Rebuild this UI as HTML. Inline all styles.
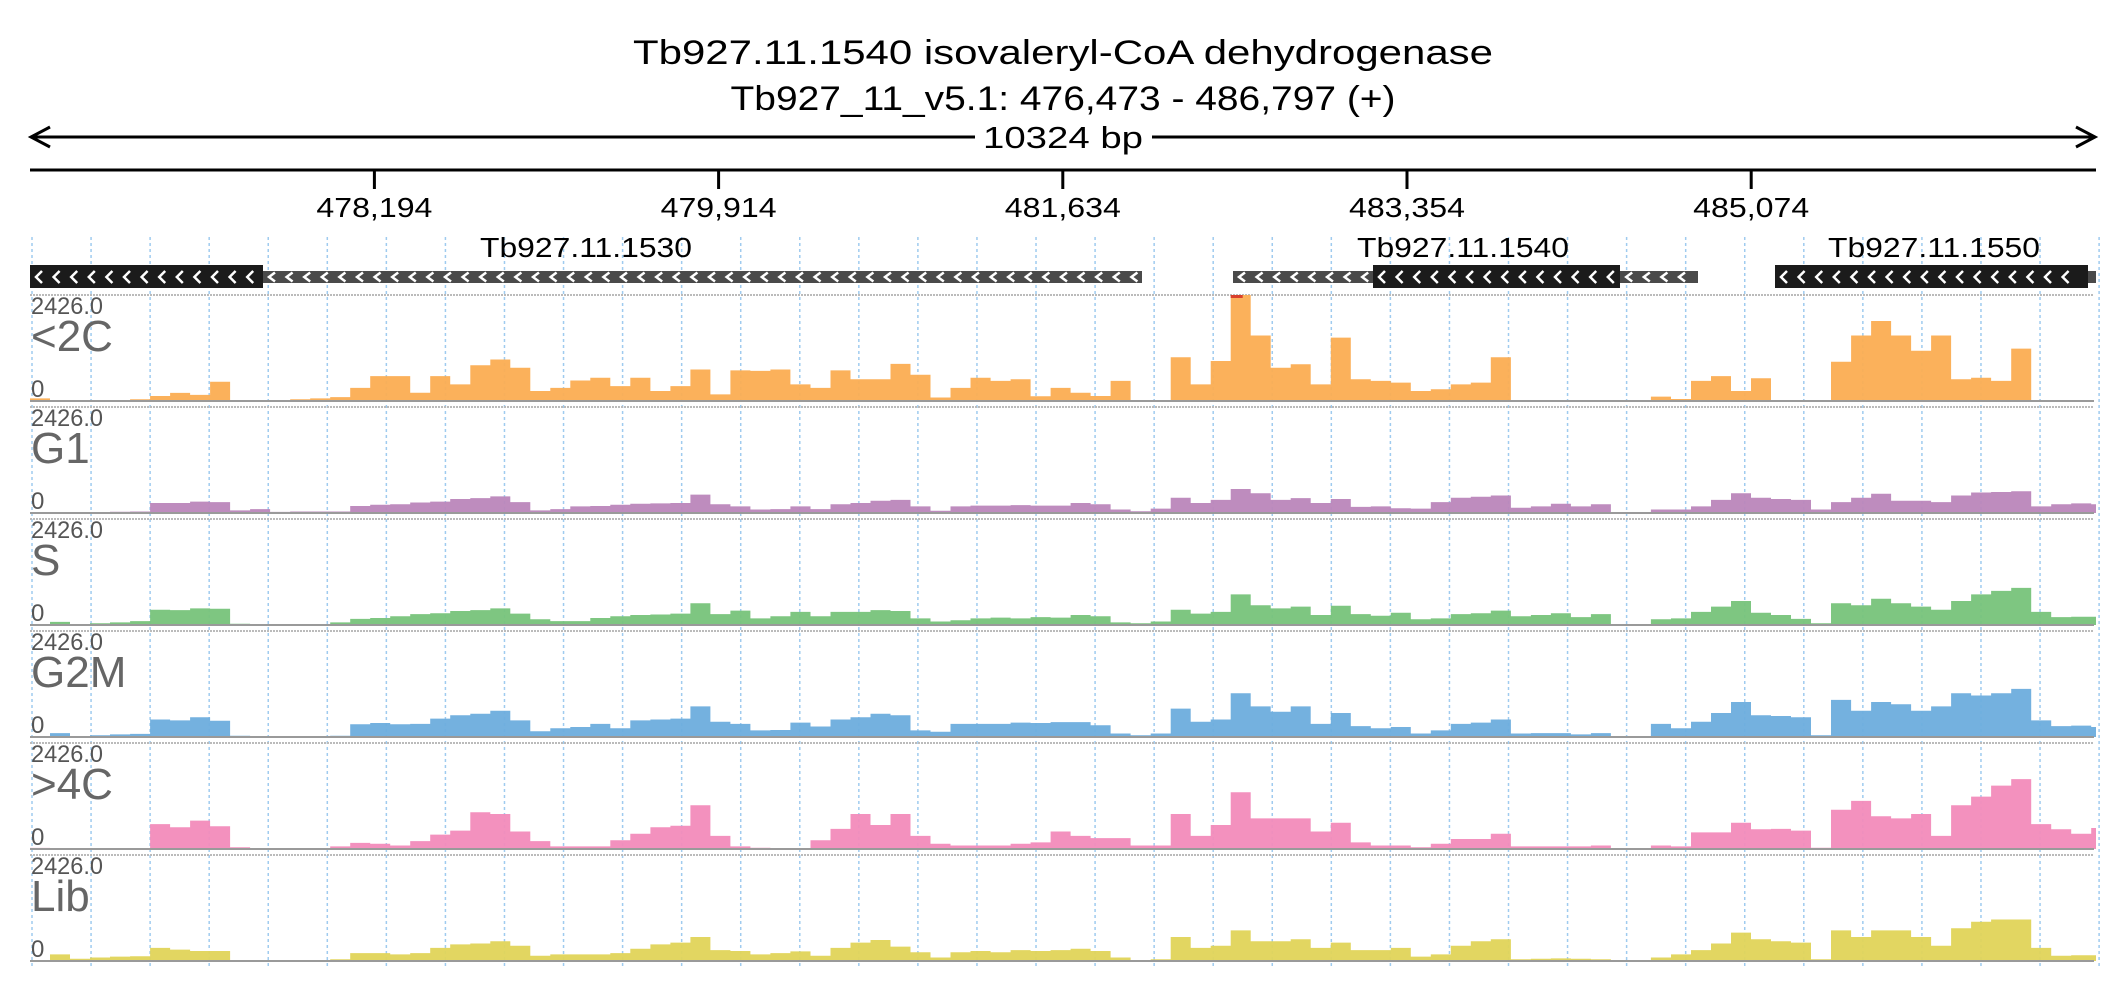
<!DOCTYPE html>
<html><head><meta charset="utf-8">
<style>
html,body{margin:0;padding:0;background:#fff;}
svg{display:block;font-family:"Liberation Sans",sans-serif;}
</style></head>
<body>
<svg id="chart" width="2126" height="1000" viewBox="0 0 2126 1000" xmlns="http://www.w3.org/2000/svg">
  <g>
    <text x="1063" y="64" font-size="34" text-anchor="middle" textLength="860" lengthAdjust="spacingAndGlyphs">Tb927.11.1540  isovaleryl-CoA dehydrogenase</text>
    <text x="1063" y="110" font-size="34" text-anchor="middle" textLength="665" lengthAdjust="spacingAndGlyphs">Tb927_11_v5.1: 476,473 - 486,797 (+)</text>
  </g>
  <g stroke="#000" stroke-width="3" fill="none">
    <line x1="31" y1="137" x2="975" y2="137"/>
    <line x1="1152" y1="137" x2="2095" y2="137"/>
    <polyline points="50,127 31,137 50,147"/>
    <polyline points="2076,127 2095,137 2076,147"/>
  </g>
  <text x="1063" y="148" font-size="31" text-anchor="middle" textLength="160" lengthAdjust="spacingAndGlyphs">10324 bp</text>
  <g id="axis"></g>
  <g id="grid"></g>
  <g id="genes"></g>
  <g id="tracks"></g>
</svg>
<script>
const genomeStart = 476473;
const genomeEnd = 486797;
const binSize = 100;
const tickPositions = [478194, 479914, 481634, 483354, 485074];
const tickLabels = ["478,194", "479,914", "481,634", "483,354", "485,074"];
const trackNames = ["<2C", "G1", "S", "G2M", ">4C", "Lib"];
const trackMax = 2426;
const maxLabel = "2426.0";
const geneNames = ["Tb927.11.1530", "Tb927.11.1540", "Tb927.11.1550"];

const cov2C = [60,20,15,15,15,40,115,185,140,440,0,0,15,40,60,90,300,570,570,190,570,380,820,950,760,230,300,470,530,340,530,230,340,720,150,700,690,720,380,300,700,500,500,850,600,80,300,530,460,500,110,300,
190,115,460,0,0,1000,380,915,2426,1500,760,840,380,1450,500,460,420,230,270,380,420,1000,0,0,0,0,0,0,20,100,45,460,570,230,520,0,0,0,900,1500,1830,1500,1150,1500,500,530,460,1200,0,0,0,0];
const covG1 = [10,10,10,10,30,35,230,230,260,250,60,90,25,35,35,35,160,190,200,240,260,320,340,380,250,60,90,150,160,190,210,220,230,420,200,150,80,90,150,90,200,230,280,300,150,50,150,170,170,180,170,170,
230,200,80,40,100,350,230,300,550,450,300,340,230,320,140,150,110,100,250,350,370,400,120,150,210,150,200,0,0,80,80,150,300,450,350,320,300,80,250,350,440,280,280,250,400,470,480,500,150,200,220,200];
const covS = [0,70,20,40,60,90,350,340,380,370,30,20,20,20,20,60,140,160,200,250,270,320,340,380,260,130,90,90,160,200,230,240,260,500,250,330,150,200,300,200,300,300,340,320,150,80,110,150,170,150,180,170,
230,200,60,40,80,350,260,300,700,450,380,420,230,440,250,210,280,130,150,250,270,330,200,230,270,180,250,20,20,130,150,300,420,550,280,230,140,40,500,450,600,500,420,350,550,700,780,850,300,180,190,190];
const covG2M = [0,90,20,40,60,70,400,380,450,370,30,20,20,20,20,30,290,320,290,300,420,500,530,600,380,130,200,230,300,200,380,400,420,700,350,300,150,160,330,240,400,450,530,500,150,120,300,300,300,330,320,340,
340,270,80,40,80,650,350,400,1000,700,580,700,300,550,250,200,230,80,150,300,330,400,80,90,90,60,90,0,0,300,200,350,550,800,500,480,450,40,850,600,800,750,600,700,1000,950,1000,1100,380,250,260,230];
const cov4C = [25,10,5,5,5,15,570,500,650,520,40,20,15,15,15,60,140,120,80,180,330,420,840,800,400,180,60,60,60,200,350,500,530,1000,300,60,30,20,20,200,460,800,550,800,300,120,80,80,80,120,150,400,
300,250,250,80,80,800,300,550,1300,700,700,700,400,600,150,80,80,40,120,230,230,350,60,60,60,60,80,15,15,80,60,380,380,600,450,460,420,30,900,1100,750,700,800,300,1000,1200,1450,1600,570,450,350,480];
const covLib = [0,150,50,80,100,110,300,260,230,230,20,15,15,15,15,40,180,180,150,180,300,380,400,450,350,120,150,150,150,180,280,380,420,550,250,230,150,180,220,120,300,420,480,330,200,80,200,230,200,250,230,250,
280,230,80,20,40,550,300,350,700,450,450,500,300,420,250,250,300,100,150,350,450,500,40,50,60,50,40,0,0,80,150,250,400,650,500,450,420,40,700,550,700,700,550,350,750,900,950,950,300,120,130,130];

const trackData = [cov2C, covG1, covS, covG2M, cov4C, covLib];
const trackColors = ["#fbad52", "#bb86bb", "#77c37a", "#6daddd", "#f28bba", "#e0d458"];

const NS = "http://www.w3.org/2000/svg";
const X0 = 30, X1 = 2096;
function xScale(pos){ return X0 + (pos - genomeStart) / (genomeEnd - genomeStart) * (X1 - X0); }
function mk(tag, attrs, parent){ const e = document.createElementNS(NS, tag); for (const k in attrs) e.setAttribute(k, attrs[k]); parent.appendChild(e); return e; }

const axis = document.getElementById('axis');
const axLine = mk('line', {x1:X0, y1:170, x2:X1, y2:170, stroke:'#000', 'stroke-width':3}, axis);


tickPositions.forEach((p, i) => {
  const x = xScale(p);
  const t = mk('line', {x1:x, y1:170, x2:x, y2:189, stroke:'#000', 'stroke-width':3}, axis);
  
  
  const lb = mk('text', {x:x, y:217, 'font-size':28, 'text-anchor':'middle', textLength:116, lengthAdjust:'spacingAndGlyphs'}, axis);
  lb.textContent = tickLabels[i];
  
  
});

const grid = document.getElementById('grid');
for (let k = 0; k <= 35; k++) {
  const x = 32 + k * 59.06;
  const g = mk('line', {x1:x, y1:237, x2:x, y2:966, stroke:'#9fcbef', 'stroke-width':1.5, 'stroke-dasharray':'3,3'}, grid);
  
  
}

const genes = document.getElementById('genes');
function chevrons(x1, x2, cy, half, parent){
  for (let x = x1 + 6; x < x2 - 8; x += 17.6) {
    const c = mk('polyline', {points:`${x+6},${cy-half} ${x},${cy} ${x+6},${cy+half}`, fill:'none', stroke:'#fff', 'stroke-width':2.5}, parent);
    
    
  }
}
function thin(x1, x2){
  const r = mk('rect', {x:x1, y:271, width:x2-x1, height:12, fill:'#4a4a4a'}, genes);
  
  
  chevrons(x1, x2, 277, 4.5, genes);
}
function thick(x1, x2){
  const r = mk('rect', {x:x1, y:265, width:x2-x1, height:23, fill:'#1b1b1b'}, genes);
  
  
  chevrons(x1, x2, 277, 6, genes);
}
thin(263, 1142); thick(30, 263);
thin(1233, 1698); thick(1373, 1620);
thin(2088, 2096); thick(1775, 2088);
[[586, 212], [1463, 212], [1934, 212]].forEach((p, i) => {
  const t = mk('text', {x:p[0], y:257, 'font-size':28, 'text-anchor':'middle', textLength:p[1], lengthAdjust:'spacingAndGlyphs'}, genes);
  t.textContent = geneNames[i];
  
  
});

const tracks = document.getElementById('tracks');
const TOP0 = 295, PERIOD = 112, H = 106;
trackData.forEach((vals, ti) => {
  const top = TOP0 + ti * PERIOD, base = top + H;
  const g = mk('g', {}, tracks);
  
  
  const tl = mk('line', {x1:X0, y1:top, x2:2094, y2:top, stroke:'#bbb', 'stroke-width':2, 'stroke-dasharray':'2,1'}, g);
  
  
  function yScale(v){ return base - Math.min(v, trackMax) / trackMax * H; }
  let d = `M${xScale(genomeStart).toFixed(1)},${base}`;
  vals.forEach((v, i) => {
    const xa = xScale(genomeStart + i * binSize);
    const xb = xScale(Math.min(genomeStart + (i + 1) * binSize, genomeEnd));
    const y = yScale(v).toFixed(1);
    d += ` L${xa.toFixed(1)},${y} L${xb.toFixed(1)},${y}`;
  });
  d += ` L${xScale(genomeEnd).toFixed(1)},${base} Z`;
  const area = mk('path', {d:d, fill:trackColors[ti], opacity:0.95}, g);
  
  
  vals.forEach((v, i) => {
    if (v >= trackMax) {
      const xa = xScale(genomeStart + i * binSize);
      const m = mk('rect', {x:xa, y:top, width:(xScale(genomeStart + binSize) - X0) * 0.6, height:3, fill:'#d9402b'}, g);
      
      
    }
  });
  const bl = mk('line', {x1:X0, y1:base, x2:2094, y2:base, stroke:'#9a9a9a', 'stroke-width':2}, g);
  
  
  const mx = mk('text', {x:31, y:top+19, 'font-size':24, fill:'#555', textLength:72, lengthAdjust:'spacingAndGlyphs'}, g);
  mx.textContent = maxLabel;
  
  
  const nm = mk('text', {x:31, y:top+56, 'font-size':44, fill:'#666'}, g);
  nm.textContent = trackNames[ti];
  
  
  const zr = mk('text', {x:31, y:top+102, 'font-size':24, fill:'#555'}, g);
  zr.textContent = '0';
  
  
});
</script>
</body></html>
